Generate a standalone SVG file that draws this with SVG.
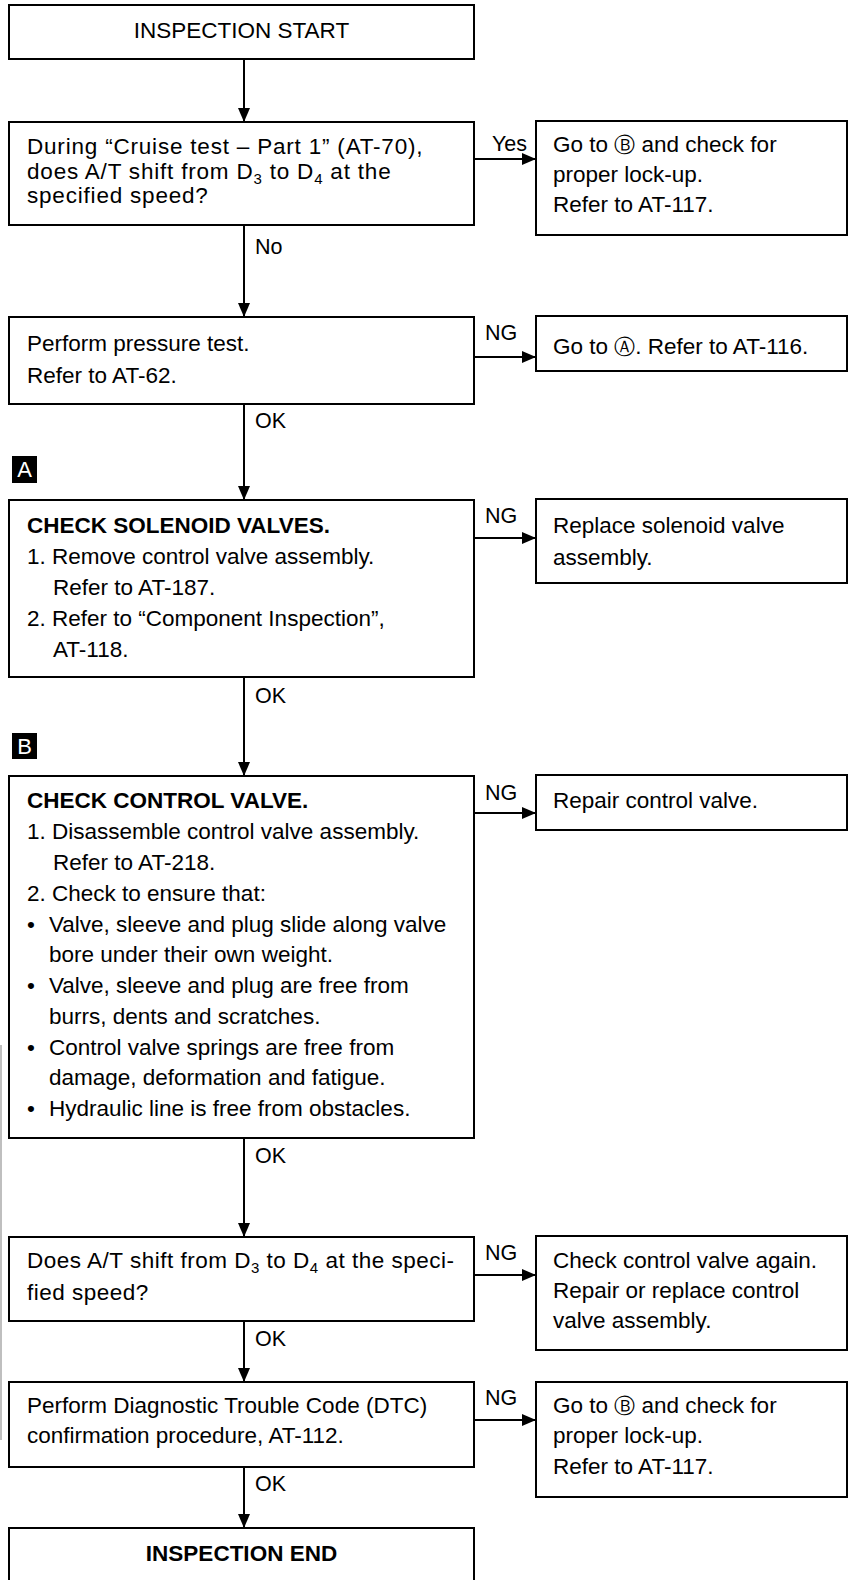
<svg xmlns="http://www.w3.org/2000/svg" width="851" height="1580" viewBox="0 0 851 1580">
<defs>
<marker id="arr" markerUnits="userSpaceOnUse" markerWidth="14" markerHeight="12" refX="14" refY="6" orient="auto">
<path d="M0,0 L14,6 L0,12 z" fill="#000"/>
</marker>
<style>
.box{fill:#fff;stroke:#000;stroke-width:2}
.t{font-family:"Liberation Sans",Arial,sans-serif;font-size:22.5px;fill:#000}
.b{font-weight:bold}
.c{text-anchor:middle}
.lbl{font-family:"Liberation Sans",Arial,sans-serif;font-size:21.5px;fill:#000}
.edge{stroke:#000;stroke-width:2;fill:none;marker-end:url(#arr)}
.circ{font-family:"DejaVu Sans",sans-serif;font-size:21px}
.sub{font-size:15px}
.mk{fill:#000}
.mkt{font-family:"Liberation Sans",Arial,sans-serif;font-size:22px;fill:#fff;text-anchor:middle}
</style>
</defs>
<rect width="851" height="1580" fill="#fff"/>
<line x1="1" y1="1045" x2="1" y2="1440" stroke="#aaa" stroke-width="1.5"/>

<g id="connectors">
<line class="edge" x1="244" y1="59" x2="244" y2="122"/>
<line class="edge" x1="474" y1="159" x2="536" y2="159"/>
<line class="edge" x1="244" y1="225" x2="244" y2="317"/>
<line class="edge" x1="474" y1="357" x2="536" y2="357"/>
<line class="edge" x1="244" y1="404" x2="244" y2="500"/>
<line class="edge" x1="474" y1="538" x2="536" y2="538"/>
<line class="edge" x1="244" y1="677" x2="244" y2="776"/>
<line class="edge" x1="474" y1="813" x2="536" y2="813"/>
<line class="edge" x1="244" y1="1138" x2="244" y2="1237"/>
<line class="edge" x1="474" y1="1275" x2="536" y2="1275"/>
<line class="edge" x1="244" y1="1321" x2="244" y2="1382"/>
<line class="edge" x1="474" y1="1420" x2="536" y2="1420"/>
<line class="edge" x1="244" y1="1467" x2="244" y2="1528"/>
<text class="lbl" x="492" y="151">Yes</text>
<text class="lbl" x="255" y="254">No</text>
<text class="lbl" x="485" y="340">NG</text>
<text class="lbl" x="255" y="428">OK</text>
<text class="lbl" x="485" y="523">NG</text>
<text class="lbl" x="255" y="703">OK</text>
<text class="lbl" x="485" y="800">NG</text>
<text class="lbl" x="255" y="1163">OK</text>
<text class="lbl" x="485" y="1260">NG</text>
<text class="lbl" x="255" y="1346">OK</text>
<text class="lbl" x="485" y="1405">NG</text>
<text class="lbl" x="255" y="1491">OK</text>
</g>

<g id="start">
<rect class="box" x="9" y="5" width="465" height="54"/>
<text class="t c" x="241.5" y="38">INSPECTION START</text>
</g>

<g id="q-cruise">
<rect class="box" x="9" y="122" width="465" height="103"/>
<text class="t" x="27" y="154" letter-spacing="0.8">During “Cruise test – Part 1” (AT-70),</text>
<text class="t" x="27" y="178.5" letter-spacing="0.8">does A/T shift from D<tspan class="sub" dy="5">3</tspan><tspan dy="-5"> to D</tspan><tspan class="sub" dy="5">4</tspan><tspan dy="-5"> at the</tspan></text>
<text class="t" x="27" y="203" letter-spacing="0.8">specified speed?</text>
</g>

<g id="r-lockup1">
<rect class="box" x="536" y="121" width="311" height="114"/>
<text class="t" x="553" y="152">Go to <tspan class="circ">Ⓑ</tspan> and check for</text>
<text class="t" x="553" y="182">proper lock-up.</text>
<text class="t" x="553" y="212">Refer to AT-117.</text>
</g>

<g id="pressure">
<rect class="box" x="9" y="317" width="465" height="87"/>
<text class="t" x="27" y="351">Perform pressure test.</text>
<text class="t" x="27" y="383">Refer to AT-62.</text>
</g>

<g id="r-goto-a">
<rect class="box" x="536" y="316" width="311" height="55"/>
<text class="t" x="553" y="354">Go to <tspan class="circ">Ⓐ</tspan>. Refer to AT-116.</text>
</g>

<g id="marker-a">
<rect class="mk" x="12" y="456" width="25" height="27"/>
<text class="mkt" x="24.5" y="477">A</text>
</g>

<g id="solenoid">
<rect class="box" x="9" y="500" width="465" height="177"/>
<text class="t b" x="27" y="533">CHECK SOLENOID VALVES.</text>
<text class="t" x="27" y="564">1. Remove control valve assembly.</text>
<text class="t" x="53" y="595">Refer to AT-187.</text>
<text class="t" x="27" y="626">2. Refer to “Component Inspection”,</text>
<text class="t" x="53" y="657">AT-118.</text>
</g>

<g id="r-replace-solenoid">
<rect class="box" x="536" y="499" width="311" height="84"/>
<text class="t" x="553" y="533">Replace solenoid valve</text>
<text class="t" x="553" y="565">assembly.</text>
</g>

<g id="marker-b">
<rect class="mk" x="12" y="733" width="25" height="26"/>
<text class="mkt" x="24.5" y="754">B</text>
</g>

<g id="control-valve">
<rect class="box" x="9" y="776" width="465" height="362"/>
<text class="t b" x="27" y="808">CHECK CONTROL VALVE.</text>
<text class="t" x="27" y="839">1. Disassemble control valve assembly.</text>
<text class="t" x="53" y="870">Refer to AT-218.</text>
<text class="t" x="27" y="901">2. Check to ensure that:</text>
<text class="t" x="27" y="932">•</text><text class="t" x="49" y="932">Valve, sleeve and plug slide along valve</text>
<text class="t" x="49" y="962">bore under their own weight.</text>
<text class="t" x="27" y="993">•</text><text class="t" x="49" y="993">Valve, sleeve and plug are free from</text>
<text class="t" x="49" y="1024">burrs, dents and scratches.</text>
<text class="t" x="27" y="1055">•</text><text class="t" x="49" y="1055">Control valve springs are free from</text>
<text class="t" x="49" y="1085">damage, deformation and fatigue.</text>
<text class="t" x="27" y="1116">•</text><text class="t" x="49" y="1116">Hydraulic line is free from obstacles.</text>
</g>

<g id="r-repair">
<rect class="box" x="536" y="775" width="311" height="55"/>
<text class="t" x="553" y="808">Repair control valve.</text>
</g>

<g id="q-shift">
<rect class="box" x="9" y="1237" width="465" height="84"/>
<text class="t" x="27" y="1268" letter-spacing="0.5">Does A/T shift from D<tspan class="sub" dy="5">3</tspan><tspan dy="-5"> to D</tspan><tspan class="sub" dy="5">4</tspan><tspan dy="-5"> at the speci-</tspan></text>
<text class="t" x="27" y="1300" letter-spacing="0.5">fied speed?</text>
</g>

<g id="r-check-again">
<rect class="box" x="536" y="1236" width="311" height="114"/>
<text class="t" x="553" y="1268">Check control valve again.</text>
<text class="t" x="553" y="1298">Repair or replace control</text>
<text class="t" x="553" y="1328">valve assembly.</text>
</g>

<g id="dtc">
<rect class="box" x="9" y="1382" width="465" height="85"/>
<text class="t" x="27" y="1413">Perform Diagnostic Trouble Code (DTC)</text>
<text class="t" x="27" y="1443">confirmation procedure, AT-112.</text>
</g>

<g id="r-lockup2">
<rect class="box" x="536" y="1382" width="311" height="115"/>
<text class="t" x="553" y="1413">Go to <tspan class="circ">Ⓑ</tspan> and check for</text>
<text class="t" x="553" y="1443">proper lock-up.</text>
<text class="t" x="553" y="1474">Refer to AT-117.</text>
</g>

<g id="end">
<rect class="box" x="9" y="1528" width="465" height="70"/>
<text class="t b c" x="241.5" y="1561">INSPECTION END</text>
</g>
</svg>
